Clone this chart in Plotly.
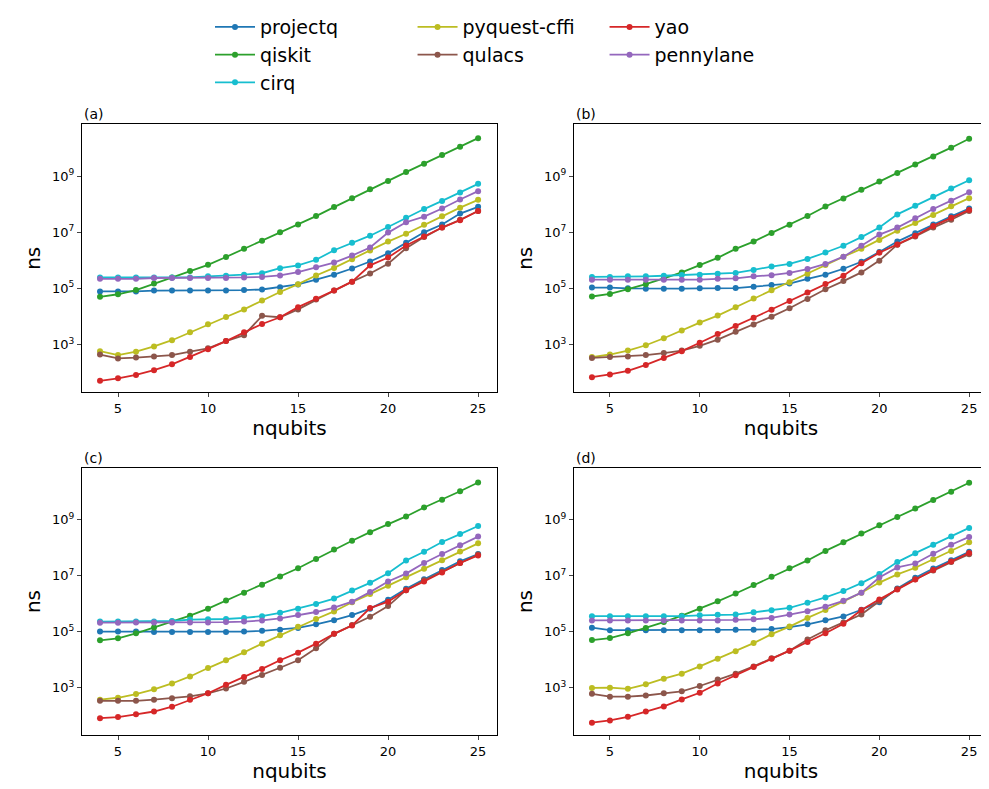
import numpy as np
import plotly.graph_objects as go

nqubits = list(range(4, 26))
packages = ["projectq", "qiskit", "cirq", "pyquest-cffi", "qulacs", "yao", "pennylane"]
colors = {"projectq": "#1f77b4", "qiskit": "#2ca02c", "cirq": "#17becf", "pyquest-cffi": "#bcbd22",
          "qulacs": "#8c564b", "yao": "#d62728", "pennylane": "#9467bd"}
# legend has 3 columns, filled column-wise
legend_col = {"projectq": "legend", "qiskit": "legend", "cirq": "legend",
              "pyquest-cffi": "legend2", "qulacs": "legend2",
              "yao": "legend3", "pennylane": "legend3"}

# log10(ns)
panel_a = {
    "projectq": [4.89, 4.89, 4.89, 4.92, 4.92, 4.92, 4.92, 4.92, 4.94, 4.96, 5.04, 5.14, 5.31, 5.49, 5.71, 5.96, 6.25, 6.63, 7.00, 7.28, 7.67, 7.91],
    "qiskit": [4.70, 4.79, 4.94, 5.17, 5.39, 5.62, 5.84, 6.12, 6.41, 6.70, 7.00, 7.28, 7.58, 7.90, 8.22, 8.54, 8.83, 9.15, 9.45, 9.76, 10.05, 10.36],
    "cirq": [5.39, 5.39, 5.39, 5.39, 5.39, 5.39, 5.43, 5.45, 5.49, 5.54, 5.72, 5.82, 6.02, 6.36, 6.63, 6.88, 7.19, 7.52, 7.83, 8.12, 8.42, 8.73],
    "pyquest-cffi": [2.76, 2.62, 2.74, 2.93, 3.15, 3.43, 3.72, 3.98, 4.25, 4.57, 4.87, 5.15, 5.46, 5.73, 6.04, 6.35, 6.67, 6.95, 7.27, 7.57, 7.88, 8.16],
    "qulacs": [2.64, 2.50, 2.53, 2.57, 2.62, 2.74, 2.86, 3.12, 3.33, 4.02, 3.97, 4.25, 4.60, 4.92, 5.24, 5.53, 5.88, 6.43, 6.83, 7.17, 7.45, 7.76],
    "yao": [1.70, 1.79, 1.91, 2.08, 2.29, 2.55, 2.83, 3.12, 3.43, 3.73, 3.97, 4.33, 4.63, 4.92, 5.24, 5.82, 6.10, 6.53, 6.85, 7.17, 7.43, 7.76],
    "pennylane": [5.34, 5.34, 5.34, 5.37, 5.37, 5.37, 5.37, 5.37, 5.39, 5.41, 5.46, 5.58, 5.75, 5.92, 6.17, 6.46, 6.99, 7.36, 7.56, 7.85, 8.17, 8.47],
}
panel_b = {
    "projectq": [5.03, 5.03, 5.00, 4.99, 4.99, 4.99, 5.00, 5.01, 5.01, 5.06, 5.12, 5.17, 5.34, 5.49, 5.70, 5.95, 6.30, 6.67, 6.97, 7.28, 7.57, 7.85],
    "qiskit": [4.71, 4.80, 4.97, 5.15, 5.36, 5.57, 5.83, 6.09, 6.41, 6.67, 6.98, 7.27, 7.58, 7.92, 8.21, 8.52, 8.81, 9.12, 9.42, 9.71, 10.02, 10.34],
    "cirq": [5.41, 5.41, 5.43, 5.43, 5.45, 5.48, 5.49, 5.52, 5.55, 5.66, 5.78, 5.87, 6.05, 6.28, 6.52, 6.83, 7.17, 7.64, 7.95, 8.27, 8.56, 8.86],
    "pyquest-cffi": [2.55, 2.64, 2.78, 2.97, 3.22, 3.50, 3.78, 4.03, 4.33, 4.64, 4.93, 5.22, 5.52, 5.83, 6.13, 6.41, 6.73, 7.06, 7.33, 7.62, 7.93, 8.22],
    "qulacs": [2.52, 2.55, 2.57, 2.62, 2.69, 2.78, 2.95, 3.17, 3.45, 3.71, 3.99, 4.29, 4.62, 4.97, 5.26, 5.57, 5.99, 6.56, 6.85, 7.17, 7.45, 7.76],
    "yao": [1.83, 1.93, 2.06, 2.27, 2.52, 2.76, 3.06, 3.37, 3.66, 3.95, 4.24, 4.55, 4.85, 5.16, 5.45, 5.90, 6.27, 6.57, 6.88, 7.23, 7.52, 7.80],
    "pennylane": [5.31, 5.31, 5.31, 5.31, 5.31, 5.31, 5.31, 5.34, 5.36, 5.43, 5.47, 5.55, 5.69, 5.87, 6.13, 6.52, 6.92, 7.17, 7.50, 7.83, 8.13, 8.43],
}
panel_c = {
    "projectq": [5.00, 5.00, 5.00, 4.99, 4.99, 4.99, 4.99, 4.99, 5.00, 5.03, 5.07, 5.13, 5.26, 5.41, 5.59, 5.82, 6.14, 6.53, 6.87, 7.20, 7.51, 7.77],
    "qiskit": [4.69, 4.76, 4.94, 5.15, 5.36, 5.57, 5.82, 6.11, 6.39, 6.67, 6.97, 7.26, 7.59, 7.93, 8.24, 8.55, 8.84, 9.11, 9.43, 9.71, 10.01, 10.32],
    "cirq": [5.36, 5.36, 5.36, 5.36, 5.38, 5.43, 5.44, 5.45, 5.49, 5.55, 5.67, 5.82, 5.99, 6.18, 6.47, 6.74, 7.08, 7.54, 7.85, 8.20, 8.48, 8.77],
    "pyquest-cffi": [2.57, 2.64, 2.77, 2.94, 3.15, 3.40, 3.70, 3.98, 4.26, 4.57, 4.87, 5.17, 5.45, 5.72, 6.05, 6.34, 6.64, 6.94, 7.24, 7.55, 7.86, 8.15],
    "qulacs": [2.53, 2.53, 2.53, 2.57, 2.62, 2.69, 2.80, 2.97, 3.21, 3.45, 3.71, 3.98, 4.41, 4.92, 5.24, 5.53, 5.91, 6.48, 6.83, 7.14, 7.45, 7.75],
    "yao": [1.91, 1.95, 2.05, 2.15, 2.32, 2.57, 2.80, 3.10, 3.38, 3.67, 3.98, 4.25, 4.57, 4.92, 5.22, 5.84, 6.07, 6.48, 6.79, 7.11, 7.45, 7.72],
    "pennylane": [5.32, 5.32, 5.33, 5.33, 5.33, 5.33, 5.33, 5.34, 5.36, 5.40, 5.47, 5.59, 5.70, 5.86, 6.07, 6.41, 6.79, 7.07, 7.45, 7.77, 8.08, 8.39],
}
panel_d = {
    "projectq": [5.14, 5.05, 5.05, 5.05, 5.05, 5.05, 5.05, 5.05, 5.07, 5.07, 5.09, 5.16, 5.26, 5.41, 5.54, 5.78, 6.05, 6.54, 6.92, 7.25, 7.55, 7.85],
    "qiskit": [4.70, 4.77, 4.94, 5.13, 5.34, 5.57, 5.82, 6.08, 6.36, 6.66, 6.96, 7.26, 7.54, 7.88, 8.19, 8.50, 8.80, 9.09, 9.39, 9.70, 9.99, 10.31],
    "cirq": [5.55, 5.55, 5.55, 5.55, 5.55, 5.55, 5.58, 5.60, 5.61, 5.69, 5.76, 5.85, 6.03, 6.22, 6.45, 6.73, 7.06, 7.48, 7.80, 8.10, 8.39, 8.70],
    "pyquest-cffi": [2.99, 3.00, 2.96, 3.12, 3.32, 3.50, 3.76, 4.03, 4.30, 4.59, 4.91, 5.18, 5.49, 5.77, 6.08, 6.39, 6.75, 7.04, 7.28, 7.58, 7.88, 8.19],
    "qulacs": [2.78, 2.68, 2.68, 2.72, 2.80, 2.87, 3.06, 3.29, 3.50, 3.76, 4.05, 4.32, 4.72, 5.05, 5.33, 5.61, 6.08, 6.52, 6.87, 7.18, 7.48, 7.76],
    "yao": [1.75, 1.83, 1.96, 2.15, 2.33, 2.58, 2.82, 3.15, 3.44, 3.74, 4.03, 4.32, 4.63, 4.94, 5.28, 5.77, 6.15, 6.50, 6.86, 7.20, 7.50, 7.81],
    "pennylane": [5.40, 5.40, 5.40, 5.40, 5.40, 5.40, 5.40, 5.40, 5.42, 5.44, 5.49, 5.61, 5.73, 5.89, 6.10, 6.39, 6.93, 7.29, 7.43, 7.78, 8.10, 8.38],
}
panels = [("(a)", panel_a), ("(b)", panel_b), ("(c)", panel_c), ("(d)", panel_d)]

W, H = 989, 789
xdoms = [(74 / W, 489 / W), (566 / W, 980 / W)]
ydoms = [(1 - 382 / H, 1 - 113 / H), (1 - 727 / H, 1 - 458 / H)]

fig = go.Figure()
font = dict(family="DejaVu Sans", color="black")
for i, (label, data) in enumerate(panels):
    r, c = divmod(i, 2)
    sfx = "" if i == 0 else str(i + 1)
    for pkg in packages:
        fig.add_trace(go.Scatter(
            x=nqubits, y=[10 ** v for v in data[pkg]], mode="lines+markers", name=pkg,
            line=dict(color=colors[pkg], width=1.8), marker=dict(color=colors[pkg], size=6),
            xaxis="x" + sfx, yaxis="y" + sfx, showlegend=(i == 0), legend=legend_col[pkg]))
    axis_common = dict(showline=True, linecolor="black", mirror=True, ticks="outside", ticklen=4,
                       showgrid=False, zeroline=False, automargin=False,
                       tickfont=dict(size=13, **font))
    fig.update_layout({
        "xaxis" + sfx: dict(domain=xdoms[c], range=[3.0, 26.05], tickvals=[5, 10, 15, 20, 25],
                            anchor="y" + sfx, title=dict(text="nqubits", font=dict(size=20, **font), standoff=4),
                            **axis_common),
        "yaxis" + sfx: dict(domain=ydoms[r], type="log", range=[1.30, 10.85], tickvals=[1e3, 1e5, 1e7, 1e9],
                            ticktext=["10<sup>3</sup>", "10<sup>5</sup>", "10<sup>7</sup>", "10<sup>9</sup>"],
                            anchor="x" + sfx, title=dict(text="ns", font=dict(size=20, **font), standoff=6),
                            **axis_common),
    })
    fig.add_annotation(text=label, x=xdoms[c][0], y=ydoms[r][1], xref="paper", yref="paper",
                       xanchor="left", yanchor="bottom", showarrow=False, font=dict(size=14, **font))

leg = dict(orientation="v", y=1.005, yanchor="top", xanchor="left", tracegroupgap=0,
           itemwidth=40, font=dict(size=19, **font), bgcolor="rgba(0,0,0,0)")
fig.update_layout(
    width=W, height=H, plot_bgcolor="white", paper_bgcolor="white",
    margin=dict(l=0, r=0, t=0, b=0), font=font,
    legend=dict(x=202 / W, **leg),
    legend2=dict(x=454 / W - 0.05, **leg),
    legend3=dict(x=646 / W - 0.05, **leg),
)
fig.write_html("out.html")
